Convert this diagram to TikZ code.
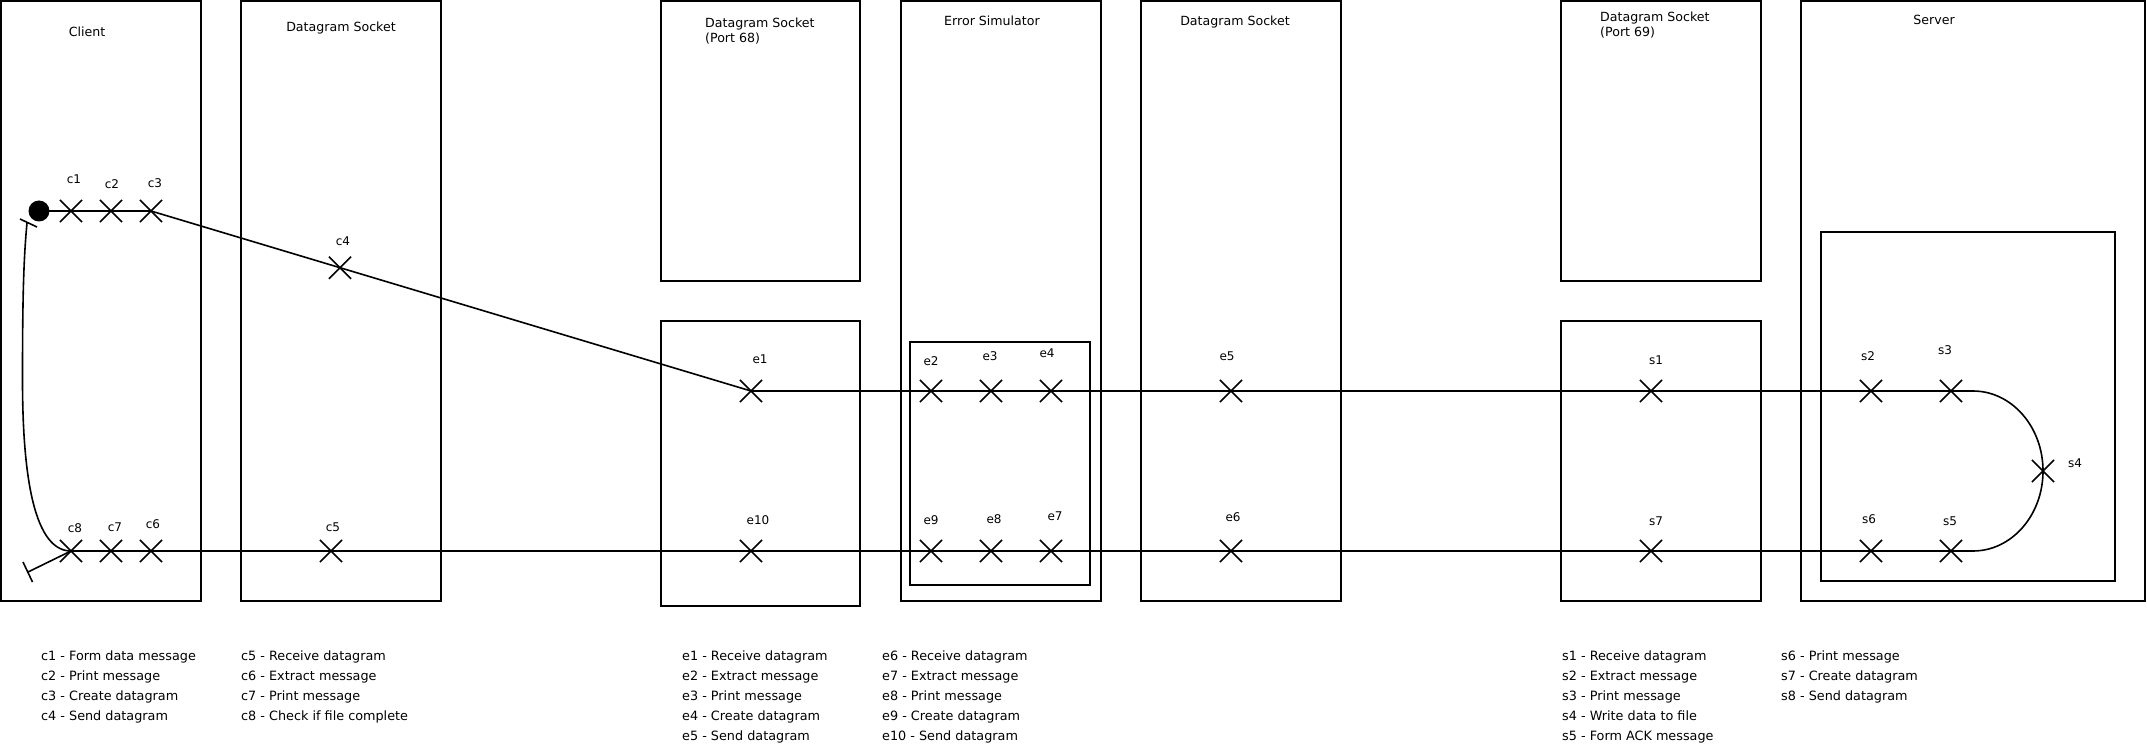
\documentclass[tikz,border=0pt]{standalone}
\usepackage{fontspec}
\setmainfont{DejaVu Sans}
\usetikzlibrary{shapes.misc}
\tikzset{
  box/.style={draw, line width=2pt},
  flow/.style={line width=1.6pt},
  xmark/.style={draw, cross out, line width=1.6pt, minimum size=20.5pt, inner sep=0pt},
  startdot/.style={circle, fill=black, minimum size=21pt, inner sep=0pt},
  lbl/.style={font=\fontsize{12}{14}\selectfont, inner sep=0pt, text height=8.5pt, text depth=0pt},
  ttl/.style={font=\fontsize{12.6}{16}\selectfont, inner sep=0pt, text height=9pt, text depth=2.5pt},
  ttl2/.style={font=\fontsize{12.6}{15.5}\selectfont, inner sep=0pt, align=left, anchor=west},
  leg/.style={font=\fontsize{12.8}{16}\selectfont, inner sep=0pt, anchor=west, text height=9pt, text depth=2.5pt}
}
\begin{document}
\begin{tikzpicture}[x=1pt,y=-1pt]
\useasboundingbox (0,0) rectangle (2147,746);

% ---- boxes ----
\draw[box] (1,1) rectangle (201,601);
\draw[box] (241,1) rectangle (441,601);
\draw[box] (661,1) rectangle (860,281);
\draw[box] (661,321) rectangle (860,606);
\draw[box] (901,1) rectangle (1101,601);
\draw[box] (910,342) rectangle (1090,585);
\draw[box] (1141,1) rectangle (1341,601);
\draw[box] (1561,1) rectangle (1761,281);
\draw[box] (1561,321) rectangle (1761,601);
\draw[box] (1801,1) rectangle (2145,601);
\draw[box] (1821,232) rectangle (2115,581);

% ---- titles ----
\node[ttl] (tclient) at (87,33) {Client};
\node[ttl] (tds1) at (341,28) {Datagram Socket};
\node[ttl2] (tds68) at (705,31) {Datagram Socket\\(Port 68)};
\node[ttl] (terr) at (992,22) {Error Simulator};
\node[ttl] (tds3) at (1235,22) {Datagram Socket};
\node[ttl2] (tds69) at (1600,25) {Datagram Socket\\(Port 69)};
\node[ttl] (tserver) at (1934,21) {Server};

% ---- points ----
\node[startdot] (start) at (39,211) {};
\node[xmark] (c1) at (71,211) {};
\node[xmark] (c2) at (111,211) {};
\node[xmark] (c3) at (151,211) {};
\node[xmark] (c4) at (340,267.7) {};
\node[xmark] (e1) at (751,391) {};
\node[xmark] (e2) at (931,391) {};
\node[xmark] (e3) at (991,391) {};
\node[xmark] (e4) at (1051,391) {};
\node[xmark] (e5) at (1231,391) {};
\node[xmark] (s1) at (1651,391) {};
\node[xmark] (s2) at (1871,391) {};
\node[xmark] (s3) at (1951,391) {};
\node[xmark] (s4) at (2043,471) {};
\node[xmark] (s5) at (1951,551) {};
\node[xmark] (s6) at (1871,551) {};
\node[xmark] (s7) at (1651,551) {};
\node[xmark] (e6) at (1231,551) {};
\node[xmark] (e7) at (1051,551) {};
\node[xmark] (e8) at (991,551) {};
\node[xmark] (e9) at (931,551) {};
\node[xmark] (e10) at (751,551) {};
\node[xmark] (c5) at (331,551) {};
\node[xmark] (c6) at (151,551) {};
\node[xmark] (c7) at (111,551) {};
\node[xmark] (c8) at (71,551) {};

\coordinate (arcTop) at (1973,391);
\coordinate (loopEnd) at (27,223);
\coordinate (barTa) at (20,219);
\coordinate (barTb) at (37,227);
\coordinate (exitEnd) at (28,572);
\coordinate (barBa) at (23,562);
\coordinate (barBb) at (32.5,582);

% ---- flow ----
\draw[flow] (start.center) -- (c1.center) -- (c2.center) -- (c3.center) -- (c4.center) -- (e1.center)
  -- (e2.center) -- (e3.center) -- (e4.center) -- (e5.center) -- (s1.center) -- (s2.center) -- (s3.center)
  -- (arcTop) arc[start angle=-90, end angle=90, x radius=70, y radius=80]
  -- (s5.center) -- (s6.center) -- (s7.center) -- (e6.center) -- (e7.center) -- (e8.center) -- (e9.center)
  -- (e10.center) -- (c5.center) -- (c6.center) -- (c7.center) -- (c8.center);
\draw[flow] (c8.center) .. controls (35,551) and (22.5,480) .. (22.5,380) .. controls (22.5,300) and (23.5,260) .. (loopEnd);
\draw[flow] (barTa) -- (barTb);
\draw[flow] (c8.center) -- (exitEnd);
\draw[flow] (barBa) -- (barBb);

% ---- labels ----
\node[lbl] (lc1) at (74,179) {c1};
\node[lbl] (lc2) at (112,184) {c2};
\node[lbl] (lc3) at (155,183) {c3};
\node[lbl] (lc4) at (343,241) {c4};
\node[lbl] (lc5) at (333,527) {c5};
\node[lbl] (lc6) at (153,524) {c6};
\node[lbl] (lc7) at (115,527) {c7};
\node[lbl] (lc8) at (75,528) {c8};
\node[lbl] (le1) at (760,359) {e1};
\node[lbl] (le2) at (931,361) {e2};
\node[lbl] (le3) at (990,356) {e3};
\node[lbl] (le4) at (1047,353) {e4};
\node[lbl] (le5) at (1227,356) {e5};
\node[lbl] (le6) at (1233,517) {e6};
\node[lbl] (le7) at (1055,516) {e7};
\node[lbl] (le8) at (994,519) {e8};
\node[lbl] (le9) at (931,520) {e9};
\node[lbl] (le10) at (758,520) {e10};
\node[lbl] (ls1) at (1656,360) {s1};
\node[lbl] (ls2) at (1868,356) {s2};
\node[lbl] (ls3) at (1945,350) {s3};
\node[lbl] (ls4) at (2075,463) {s4};
\node[lbl] (ls5) at (1950,521) {s5};
\node[lbl] (ls6) at (1869,519) {s6};
\node[lbl] (ls7) at (1656,521) {s7};

% ---- legends ----
\node[leg] (g1) at (41,657) {c1 - Form data message};
\node[leg] (g2) at (41,677) {c2 - Print message};
\node[leg] (g3) at (41,697) {c3 - Create datagram};
\node[leg] (g4) at (41,717) {c4 - Send datagram};
\node[leg] (g5) at (241,657) {c5 - Receive datagram};
\node[leg] (g6) at (241,677) {c6 - Extract message};
\node[leg] (g7) at (241,697) {c7 - Print message};
\node[leg] (g8) at (241,717) {c8 - Check if file complete};

\node[leg] (h1) at (682,657) {e1 - Receive datagram};
\node[leg] (h2) at (682,677) {e2 - Extract message};
\node[leg] (h3) at (682,697) {e3 - Print message};
\node[leg] (h4) at (682,717) {e4 - Create datagram};
\node[leg] (h5) at (682,737) {e5 - Send datagram};
\node[leg] (h6) at (882,657) {e6 - Receive datagram};
\node[leg] (h7) at (882,677) {e7 - Extract message};
\node[leg] (h8) at (882,697) {e8 - Print message};
\node[leg] (h9) at (882,717) {e9 - Create datagram};
\node[leg] (h10) at (882,737) {e10 - Send datagram};

\node[leg] (k1) at (1562,657) {s1 - Receive datagram};
\node[leg] (k2) at (1562,677) {s2 - Extract message};
\node[leg] (k3) at (1562,697) {s3 - Print message};
\node[leg] (k4) at (1562,717) {s4 - Write data to file};
\node[leg] (k5) at (1562,737) {s5 - Form ACK message};
\node[leg] (k6) at (1781,657) {s6 - Print message};
\node[leg] (k7) at (1781,677) {s7 - Create datagram};
\node[leg] (k8) at (1781,697) {s8 - Send datagram};
\end{tikzpicture}
\end{document}
